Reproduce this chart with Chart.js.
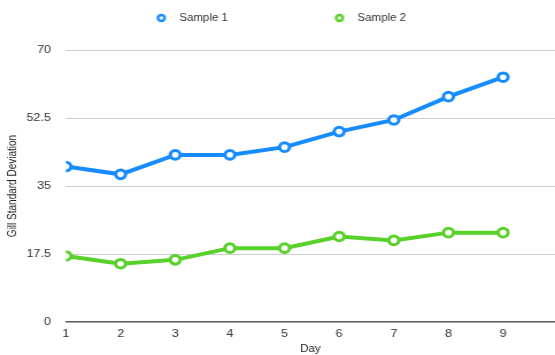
<!DOCTYPE html>
<html>
<head>
<meta charset="utf-8">
<script src="https://cdn.jsdelivr.net/npm/chart.js@4/dist/chart.umd.min.js"></script>
<style>
  html, body { margin: 0; padding: 0; background: #fff; overflow: hidden; }
  /* the chart is laid out narrow and widened to fill the page */
  #wrap { width: 483px; height: 355px; transform: scaleX(1.1491); transform-origin: 0 0; }
</style>
</head>
<body>
<div id="wrap"><canvas id="c" width="483" height="355"></canvas></div>
<script>
// Gill standard deviation measured per day for two samples
const days = [1, 2, 3, 4, 5, 6, 7, 8, 9];
const sample1 = [40, 38, 43, 43, 45, 49, 52, 58, 63];
const sample2 = [17, 15, 16, 19, 19, 22, 21, 23, 23];
const yTicks = [0, 17.5, 35, 52.5, 70];

const BLUE = '#178cff';
const GREEN = '#58d22a';

const toPoints = vals => vals.map((v, i) => ({ x: days[i], y: v }));

const lineStyle = color => ({
  borderColor: color,
  backgroundColor: '#ffffff',
  borderWidth: 4,
  pointRadius: 4.3,
  pointHoverRadius: 4.3,
  pointBorderWidth: 3,
  pointBackgroundColor: '#ffffff',
  pointBorderColor: color,
  tension: 0
});

// small ring used as the legend marker
function ring(color) {
  const c = document.createElement('canvas');
  c.width = 12; c.height = 12;
  const g = c.getContext('2d');
  g.beginPath();
  g.arc(6, 6, 2.9, 0, Math.PI * 2);
  g.fillStyle = '#fff';
  g.fill();
  g.lineWidth = 2.5;
  g.strokeStyle = color;
  g.stroke();
  return c;
}
const legendRings = [ring(BLUE), ring(GREEN)];

const FAMILY = '"Liberation Sans", Arial, Helvetica, sans-serif';
const tickFont = { family: FAMILY, size: 11 };
const textFont = { family: FAMILY, size: 10 };

// legend sits in the top band; the plot starts right below it
const TOP_PAD = -73.4;
const PLOT_TOP = 50;
const legendBand = {
  id: 'legendBand',
  beforeUpdate(chart) {
    const lg = chart.legend;
    if (lg && !lg._bandFit) {
      const fit = lg.fit;
      lg.fit = function () { fit.call(this); this.height = PLOT_TOP - TOP_PAD; };
      lg._bandFit = true;
    }
  }
};

new Chart(document.getElementById('c'), {
  type: 'line',
  data: {
    datasets: [
      Object.assign({ label: 'Sample 1', data: toPoints(sample1) }, lineStyle(BLUE)),
      Object.assign({ label: 'Sample 2', data: toPoints(sample2) }, lineStyle(GREEN))
    ]
  },
  plugins: [legendBand],
  options: {
    responsive: false,
    animation: false,
    layout: { autoPadding: false, padding: { left: 0, right: 0, top: TOP_PAD, bottom: 0 } },
    plugins: {
      tooltip: { enabled: false },
      legend: {
        position: 'top',
        labels: {
          usePointStyle: true,
          pointStyleWidth: 21.4,
          padding: 86.4,
          color: '#333',
          font: textFont,
          generateLabels: chart => {
            const items = Chart.defaults.plugins.legend.labels.generateLabels(chart);
            items.forEach((it, i) => { it.pointStyle = legendRings[i]; });
            return items;
          }
        }
      }
    },
    scales: {
      x: {
        type: 'linear',
        min: 1,
        max: 9.95,
        grid: { display: false, drawTicks: false },
        border: { display: false },
        ticks: {
          stepSize: 1,
          color: '#333',
          font: tickFont,
          padding: 5,
          callback: v => (days.includes(v) ? String(v) : null)
        },
        title: { display: true, text: 'Day', color: '#222', font: textFont, padding: { top: 0, bottom: 0 } },
        afterFit: axis => { axis.height = 33; axis.paddingRight = 0; axis.paddingLeft = 0; }
      },
      y: {
        min: 0,
        max: 70,
        afterBuildTicks: axis => { axis.ticks = yTicks.map(v => ({ value: v })); },
        grid: {
          drawTicks: false,
          color: ctx => (ctx.tick && ctx.tick.value === 0 ? '#5a5a5a' : '#cdcdcd'),
          lineWidth: ctx => (ctx.tick && ctx.tick.value === 0 ? 1.6 : 1)
        },
        border: { display: false },
        ticks: {
          color: '#333',
          font: tickFont,
          padding: 13,
          callback: v => String(v)
        },
        title: { display: true, text: 'Gill Standard Deviation', color: '#222', font: textFont, padding: { top: 5, bottom: 0 } },
        afterFit: axis => { axis.width = 57.4; }
      }
    }
  }
});
</script>
</body>
</html>
